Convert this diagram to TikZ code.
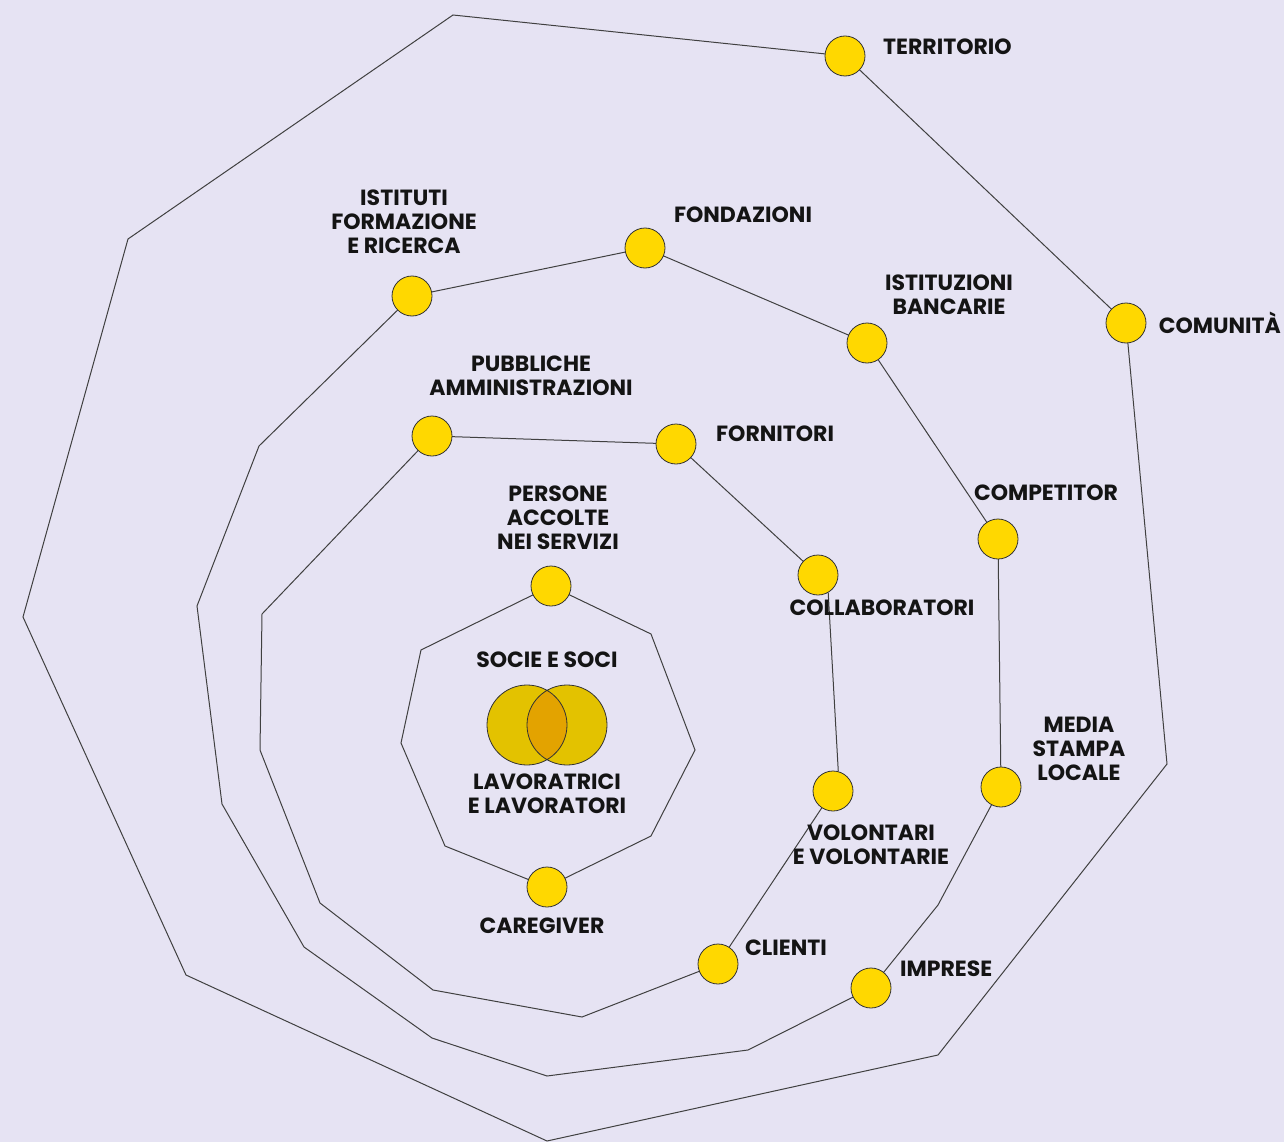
\documentclass[tikz,border=0pt]{standalone}
\usepackage{fontspec}
\setmainfont{Poppins}
\usetikzlibrary{backgrounds}
\definecolor{sfondo}{HTML}{E6E3F3}
\definecolor{giallo}{HTML}{FFD800}
\definecolor{venn}{HTML}{E3C200}
\definecolor{vennmid}{HTML}{E3A300}

\begin{document}
\begin{tikzpicture}[x=1pt,y=-1pt,
  stake/.style={circle, draw=black!80, fill=giallo, minimum size=40pt, inner sep=0pt, line width=0.8pt},
  lbl/.style={font=\fontsize{22}{24}\selectfont\bfseries, align=center, inner sep=0pt, text=black!92},
  ring/.style={draw=black!75, line width=1pt}]

  \useasboundingbox (0,0) rectangle (1284,1142);

  % stakeholder dots
  \node[stake] (persone) at (551,586) {};
  \node[stake] (caregiver) at (547,887) {};

  \node[stake] (pa) at (432,436) {};
  \node[stake] (fornitori) at (676,444) {};
  \node[stake] (collab) at (818,575) {};
  \node[stake] (volontari) at (833,791) {};
  \node[stake] (clienti) at (718,964) {};

  \node[stake] (istituti) at (412,296) {};
  \node[stake] (fondazioni) at (645,248) {};
  \node[stake] (banche) at (867,343) {};
  \node[stake] (competitor) at (998,539) {};
  \node[stake] (media) at (1001,787) {};
  \node[stake] (imprese) at (871,988) {};

  \node[stake] (territorio) at (845,56) {};
  \node[stake] (comunita) at (1126,323) {};

  % rings
  \begin{pgfonlayer}{background}
  \fill[sfondo] (0,0) rectangle (1284,1142);
  \draw[ring] (persone.center) -- (651,634) -- (695,750) -- (651,836)
              -- (caregiver.center) -- (445,846) -- (401,743) -- (421,650) -- cycle;
  \draw[ring] (pa.center) -- (fornitori.center) -- (collab.center);
  \draw[ring] (collab.-60) -- (volontari.75);
  \draw[ring] (volontari.center) -- (clienti.center) -- (582,1017) -- (433,990) -- (320,903)
              -- (260,750) -- (262,614) -- (pa.center);
  \draw[ring] (istituti.center) -- (fondazioni.center) -- (banche.center) -- (competitor.center)
              -- (media.center) -- (938,905) -- (imprese.center) -- (748,1050)
              -- (547,1076) -- (432,1038) -- (304,947) -- (222,804) -- (197,606)
              -- (259,446) -- cycle;
  \draw[ring] (453,15) -- (territorio.center) -- (comunita.center) -- (1167,764)
              -- (938,1055) -- (547,1141) -- (186,975) -- (23,617) -- (128,239) -- cycle;
  \end{pgfonlayer}

  % soci lavoratori
  \fill[venn] (527,725) circle (40);
  \fill[venn] (567,725) circle (40);
  \begin{scope}
    \clip (527,725) circle (40);
    \fill[vennmid] (567,725) circle (40);
  \end{scope}
  \draw[black!80, line width=0.8pt] (527,725) circle (40) (567,725) circle (40);

  % labels
  \node[lbl, anchor=west] (lterritorio) at (883,47) {TERRITORIO};
  \node[lbl, anchor=east] (lcomunita) at (1281,323) {COMUNITÀ};
  \node[lbl] (lfondazioni) at (743,215) {FONDAZIONI};
  \node[lbl] (listituti) at (404,222) {ISTITUTI\\FORMAZIONE\\E RICERCA};
  \node[lbl] (lbanche) at (949,295) {ISTITUZIONI\\BANCARIE};
  \node[lbl] (lpa) at (531,376) {PUBBLICHE\\AMMINISTRAZIONI};
  \node[lbl, anchor=west] (lfornitori) at (716,434) {FORNITORI};
  \node[lbl] (lcompetitor) at (1046,493) {COMPETITOR};
  \node[lbl] (lpersone) at (558,518) {PERSONE\\ACCOLTE\\NEI SERVIZI};
  \node[lbl] (lcollab) at (882,608) {COLLABORATORI};
  \node[lbl] (lsoci) at (547,660) {SOCIE E SOCI};
  \node[lbl] (llavoratori) at (547,794) {LAVORATRICI\\E LAVORATORI};
  \node[lbl] (lmedia) at (1079,749) {MEDIA\\STAMPA\\LOCALE};
  \node[lbl] (lvolontari) at (871,845) {VOLONTARI\\E VOLONTARIE};
  \node[lbl] (lcaregiver) at (542,926) {CAREGIVER};
  \node[lbl, anchor=west] (lclienti) at (745,948) {CLIENTI};
  \node[lbl, anchor=west] (limprese) at (900,969) {IMPRESE};
\end{tikzpicture}
\end{document}
